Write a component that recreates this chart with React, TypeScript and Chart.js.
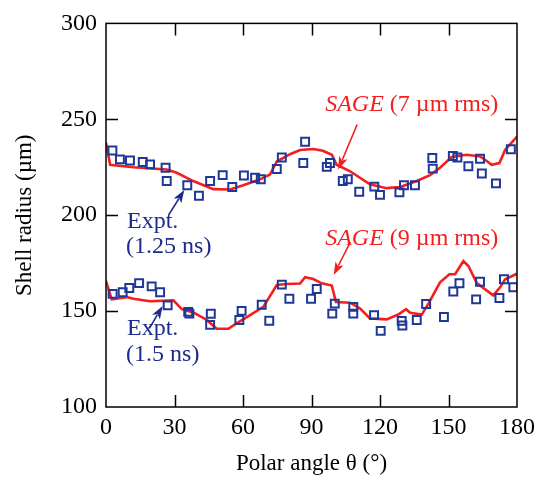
import React, { useEffect, useRef } from "react";
import { Chart, registerables } from "chart.js";

Chart.register(...registerables);

// Experimental points, 1.25 ns
const expt125Angle = [2.8, 6.1, 10.5, 16.1, 19.3, 26.1, 26.6, 35.6, 40.7, 45.6, 51.1, 55.3, 60.4, 65.3, 67.8, 74.8, 77.0, 86.4, 87.2, 96.7, 98.1, 103.7, 105.9, 110.9, 117.5, 120.0, 128.5, 130.5, 135.3, 142.9, 143.1, 151.9, 153.9, 158.7, 163.8, 164.6, 170.8, 177.3];
const expt125Radius = [233.7, 229.1, 228.5, 227.7, 226.5, 224.7, 217.8, 215.6, 210.1, 217.8, 220.9, 214.7, 220.7, 219.5, 218.7, 224.1, 230.1, 227.2, 238.3, 225.2, 227.2, 217.8, 218.7, 212.2, 214.9, 210.6, 211.9, 215.6, 215.6, 229.8, 224.3, 230.9, 230.1, 225.5, 229.4, 221.7, 216.6, 234.4];

// Experimental points, 1.5 ns
const expt15Angle = [2.9, 7.3, 10.2, 14.5, 20.0, 23.7, 27.0, 36.0, 36.5, 45.9, 45.6, 59.4, 58.4, 68.2, 71.5, 77.0, 80.3, 89.8, 92.3, 99.1, 100.2, 108.3, 108.3, 117.4, 120.3, 129.5, 129.8, 136.1, 140.2, 148.0, 152.1, 154.8, 162.1, 163.8, 172.3, 174.3, 178.4];
const expt15Radius = [159.0, 159.8, 162.0, 164.6, 162.9, 159.8, 153.0, 149.6, 148.7, 148.6, 142.8, 150.1, 145.4, 153.3, 145.0, 163.8, 156.4, 156.4, 161.5, 148.7, 153.9, 152.2, 148.7, 147.9, 139.7, 144.9, 142.5, 145.4, 153.7, 146.9, 160.2, 164.5, 156.1, 165.3, 156.8, 166.6, 162.4];

// SAGE simulation, 7 µm rms
const sage7Angle = [0, 1.8, 12, 26.6, 31, 38.2, 47, 54.3, 60.1, 67.5, 71.8, 74.8, 80.6, 85, 90.8, 95, 98.9, 101, 106.9, 115.6, 122.9, 128.8, 136.1, 141.9, 146.3, 151.4, 158, 163.8, 166, 168.9, 172.3, 174.8, 180];
const sage7Radius = [237.8, 226.3, 225.0, 223.8, 222.1, 217.8, 213.6, 213.4, 215.6, 218.7, 221.2, 228.0, 231.8, 234.0, 234.5, 233.6, 231.5, 226.3, 222.9, 216.1, 214.1, 214.7, 217.8, 220.9, 224.7, 230.3, 231.5, 230.6, 228.9, 226.3, 227.2, 234.0, 241.0];

// SAGE simulation, 9 µm rms
const sage9Angle = [0, 2.5, 9.1, 12, 19.3, 29.5, 33.2, 38.2, 44.1, 48.5, 53.6, 57.2, 63.1, 68.9, 74.8, 79.2, 85.0, 87.2, 90.8, 94.5, 98.9, 100.7, 106.9, 111.3, 115.6, 122.9, 128.0, 131.4, 133.2, 138.3, 141.2, 146.3, 150.4, 152.9, 156.5, 158.7, 162.4, 169.6, 172.6, 174.8, 180];
const sage9Radius = [165.8, 156.1, 157.3, 156.4, 155.1, 155.6, 151.0, 149.3, 145.4, 140.8, 140.8, 143.6, 147.9, 152.2, 163.6, 164.1, 164.4, 167.7, 166.7, 164.5, 163.3, 154.7, 154.4, 151.3, 146.2, 145.7, 148.2, 151.0, 149.1, 148.2, 153.9, 165.0, 169.2, 169.2, 176.1, 173.5, 164.6, 158.2, 162.4, 166.6, 169.5];

const xTicks = [0, 30, 60, 90, 120, 150, 180];
const yTicks = [100, 150, 200, 250, 300];

const RED = "#f41e1e";
const BLUE = "#1f3797";
const TEXT_BLUE = "#1d2b8d";
const FONT = "'Liberation Serif', 'Times New Roman', serif";

const toPts = (xs: number[], ys: number[]) => xs.map((x, i) => ({ x, y: ys[i] }));

function arrow(ctx: CanvasRenderingContext2D, x1: number, y1: number, x2: number, y2: number, color: string) {
  const ang = Math.atan2(y2 - y1, x2 - x1);
  const hl = 13, hw = 4.5;
  ctx.save();
  ctx.strokeStyle = color;
  ctx.fillStyle = color;
  ctx.lineWidth = 1.6;
  ctx.beginPath();
  ctx.moveTo(x1, y1);
  ctx.lineTo(x2 - hl * 0.8 * Math.cos(ang), y2 - hl * 0.8 * Math.sin(ang));
  ctx.stroke();
  ctx.beginPath();
  ctx.moveTo(x2, y2);
  ctx.lineTo(x2 - hl * Math.cos(ang) + hw * Math.sin(ang), y2 - hl * Math.sin(ang) - hw * Math.cos(ang));
  ctx.lineTo(x2 - hl * 0.75 * Math.cos(ang), y2 - hl * 0.75 * Math.sin(ang));
  ctx.lineTo(x2 - hl * Math.cos(ang) - hw * Math.sin(ang), y2 - hl * Math.sin(ang) + hw * Math.cos(ang));
  ctx.closePath();
  ctx.fill();
  ctx.restore();
}

const framePlugin = {
  id: "frameTicks",
  afterDatasetsDraw(chart: any) {
    const { ctx, chartArea: a, scales } = chart;
    const xs = scales.x, ys = scales.y;
    ctx.save();
    ctx.strokeStyle = "#000";
    ctx.lineWidth = 1.5;
    ctx.strokeRect(a.left, a.top, a.right - a.left, a.bottom - a.top);
    const L = 12;
    ctx.beginPath();
    xTicks.slice(1, -1).forEach((v) => {
      const px = Math.round(xs.getPixelForValue(v)) + 0.5;
      ctx.moveTo(px, a.bottom); ctx.lineTo(px, a.bottom - L);
      ctx.moveTo(px, a.top); ctx.lineTo(px, a.top + L);
    });
    yTicks.slice(1, -1).forEach((v) => {
      const py = Math.round(ys.getPixelForValue(v)) + 0.5;
      ctx.moveTo(a.left, py); ctx.lineTo(a.left + L, py);
      ctx.moveTo(a.right, py); ctx.lineTo(a.right - L, py);
    });
    ctx.stroke();
    ctx.restore();
  },
  afterDraw(chart: any) {
    const { ctx, scales } = chart;
    const xs = scales.x, ys = scales.y;
    const X = (v: number) => xs.getPixelForValue(v);
    const Y = (v: number) => ys.getPixelForValue(v);
    ctx.save();
    ctx.textBaseline = "alphabetic";
    ctx.textAlign = "left";
    const sage = (label: string, x: number, y: number) => {
      ctx.fillStyle = RED;
      ctx.font = `italic 24px ${FONT}`;
      ctx.fillText("SAGE", x, y);
      const w = ctx.measureText("SAGE").width;
      ctx.font = `24px ${FONT}`;
      ctx.fillText(label, x + w, y);
    };
    sage(" (7 \u00b5m rms)", X(96.0), Y(254.5));
    sage(" (9 \u00b5m rms)", X(96.0), Y(184.5));
    arrow(ctx, X(110.0), Y(247.3), X(101.7), Y(223.8), RED);
    arrow(ctx, X(107.0), Y(186.0), X(99.7), Y(168.8), RED);
    ctx.fillStyle = TEXT_BLUE;
    ctx.font = `24px ${FONT}`;
    ctx.fillText("Expt.", X(9.2), Y(193.5));
    ctx.fillText("(1.25 ns)", X(8.8), Y(180.2));
    ctx.fillText("Expt.", X(9.2), Y(137.4));
    ctx.fillText("(1.5 ns)", X(8.8), Y(124.0));
    arrow(ctx, X(27.4), Y(200.0), X(34.3), Y(213.2), TEXT_BLUE);
    arrow(ctx, X(19.0), Y(141.0), X(24.8), Y(152.7), TEXT_BLUE);
    ctx.restore();
  },
};

export default function App() {
  const ref = useRef<HTMLCanvasElement | null>(null);
  useEffect(() => {
    document.body.style.margin = "0";
    const canvas = ref.current!;
    const chart = new Chart(canvas, {
      type: "scatter",
      data: {
        datasets: [
          {
            data: toPts(expt125Angle, expt125Radius),
            pointStyle: "rect",
            pointRadius: 5.6,
            pointBorderWidth: 2,
            pointBorderColor: BLUE,
            pointBackgroundColor: "rgba(0,0,0,0)",
            showLine: false,
          },
          {
            data: toPts(expt15Angle, expt15Radius),
            pointStyle: "rect",
            pointRadius: 5.6,
            pointBorderWidth: 2,
            pointBorderColor: BLUE,
            pointBackgroundColor: "rgba(0,0,0,0)",
            showLine: false,
          },
          {
            data: toPts(sage7Angle, sage7Radius),
            showLine: true,
            borderColor: RED,
            borderWidth: 2.6,
            pointRadius: 0,
            tension: 0,
            fill: false,
          },
          {
            data: toPts(sage9Angle, sage9Radius),
            showLine: true,
            borderColor: RED,
            borderWidth: 2.6,
            pointRadius: 0,
            tension: 0,
            fill: false,
          },
        ],
      },
      options: {
        animation: false,
        responsive: false,
        maintainAspectRatio: false,
        layout: { padding: { left: 0, right: 24, top: 16, bottom: 0 } },
        plugins: { legend: { display: false }, tooltip: { enabled: false } },
        scales: {
          x: {
            type: "linear",
            min: 0,
            max: 180,
            afterBuildTicks: (s: any) => { s.ticks = xTicks.map((v) => ({ value: v })); },
            afterFit: (s: any) => { s.height = 73; },
            grid: { display: false, drawTicks: false },
            border: { display: false },
            ticks: { color: "#000", padding: 6, font: { family: FONT, size: 24 }, maxRotation: 0 },
            title: { display: true, text: "Polar angle \u03b8 (\u00b0)", color: "#000", font: { family: FONT, size: 23 }, padding: { top: 0, bottom: 2 } },
          },
          y: {
            type: "linear",
            min: 100,
            max: 300,
            afterBuildTicks: (s: any) => { s.ticks = yTicks.map((v) => ({ value: v })); },
            afterFit: (s: any) => { s.width = 106; },
            grid: { display: false, drawTicks: false },
            border: { display: false },
            ticks: { color: "#000", padding: 9, font: { family: FONT, size: 24 } },
            title: { display: true, text: "Shell radius (\u00b5m)", color: "#000", font: { family: FONT, size: 23 }, padding: { top: 11, bottom: 0 } },
          },
        },
      },
      plugins: [framePlugin],
    } as any);
    return () => chart.destroy();
  }, []);
  return (
    <div style={{ position: "absolute", left: 0, top: 0, width: 541, height: 480 }}>
      <canvas ref={ref} width={541} height={480} style={{ width: 541, height: 480 }} />
    </div>
  );
}
